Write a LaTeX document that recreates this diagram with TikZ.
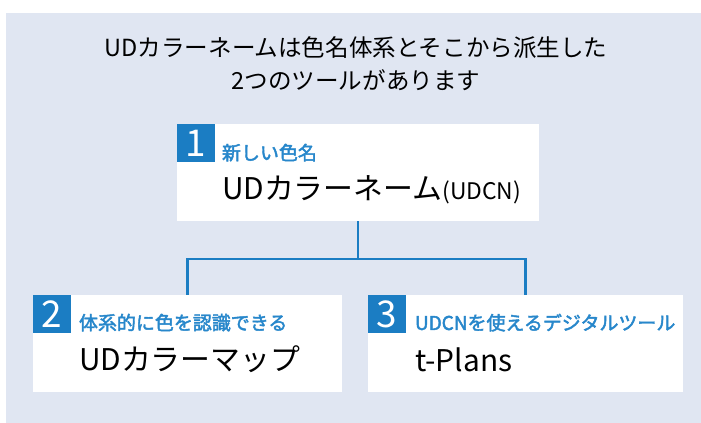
\documentclass[tikz,border=0pt]{standalone}
\usepackage{fontspec}
\setmainfont{Noto Sans CJK JP}
\newfontfamily\subfont[FakeBold=2.2]{Noto Sans CJK JP}
\usepackage{xcolor}
\usetikzlibrary{positioning}

\definecolor{udbg}{HTML}{E0E6F2}
\definecolor{udblue}{HTML}{1B7DC3}
\definecolor{udsub}{HTML}{2787CB}

\begin{document}
\begin{tikzpicture}[
  card/.style={rectangle, fill=white, minimum height=1.94cm, inner sep=0pt},
  numtag/.style={rectangle, fill=udblue, text=white, minimum size=0.76cm, inner sep=0pt, font=\fontsize{21}{21}\selectfont, anchor=north west},
  subtitle/.style={anchor=west, inner sep=0pt, text=udsub, font=\subfont\fontsize{10.8}{12}\selectfont},
  maintitle/.style={anchor=west, inner sep=0pt, font=\fontsize{17}{20}\selectfont},
  branch/.style={draw=udblue, line width=1.7pt}
]
  \useasboundingbox (0,0) rectangle (14.02,-8.46);
  \fill[udbg] (0.12,-0.26) rectangle (14.02,-8.46);

  % title
  \node[align=center, font=\fontsize{13.4}{18.8}\selectfont] (title) at (7.12,-1.27)
    {UDカラーネームは色名体系とそこから派生した\\2つのツールがあります};

  % cards
  \node[card, minimum width=7.24cm] (b1) at (7.16,-3.45) {};
  \node[card, minimum width=6.18cm] (b2) at (3.75,-6.87) {};
  \node[card, minimum width=6.30cm] (b3) at (10.51,-6.87) {};

  \node[numtag] (n1) at (b1.north west) {1};
  \node[numtag] (n2) at (b2.north west) {2};
  \node[numtag] (n3) at (b3.north west) {3};

  \node[subtitle] (s1) at ([xshift=0.9cm,yshift=-0.58cm]b1.north west) {新しい色名};
  \node[maintitle] (t1) at ([xshift=0.9cm,yshift=-1.32cm]b1.north west) {UDカラーネーム{\fontsize{13}{14}\selectfont(UDCN)}};

  \node[subtitle] (s2) at ([xshift=0.92cm,yshift=-0.56cm]b2.north west) {体系的に色を認識できる};
  \node[maintitle] (t2) at ([xshift=0.92cm,yshift=-1.3cm]b2.north west) {UDカラーマップ};

  \node[subtitle] (s3) at ([xshift=0.94cm,yshift=-0.56cm]b3.north west) {UDCNを使えるデジタルツール};
  \node[maintitle] (t3) at ([xshift=0.94cm,yshift=-1.3cm]b3.north west) {t-Plans};

  % connectors
  \coordinate (fork) at (7.16,-5.18);
  \draw[branch] (b1.south) -- (fork);
  \draw[branch] (b2.north) |- (fork) -| (b3.north);
\end{tikzpicture}
\end{document}
